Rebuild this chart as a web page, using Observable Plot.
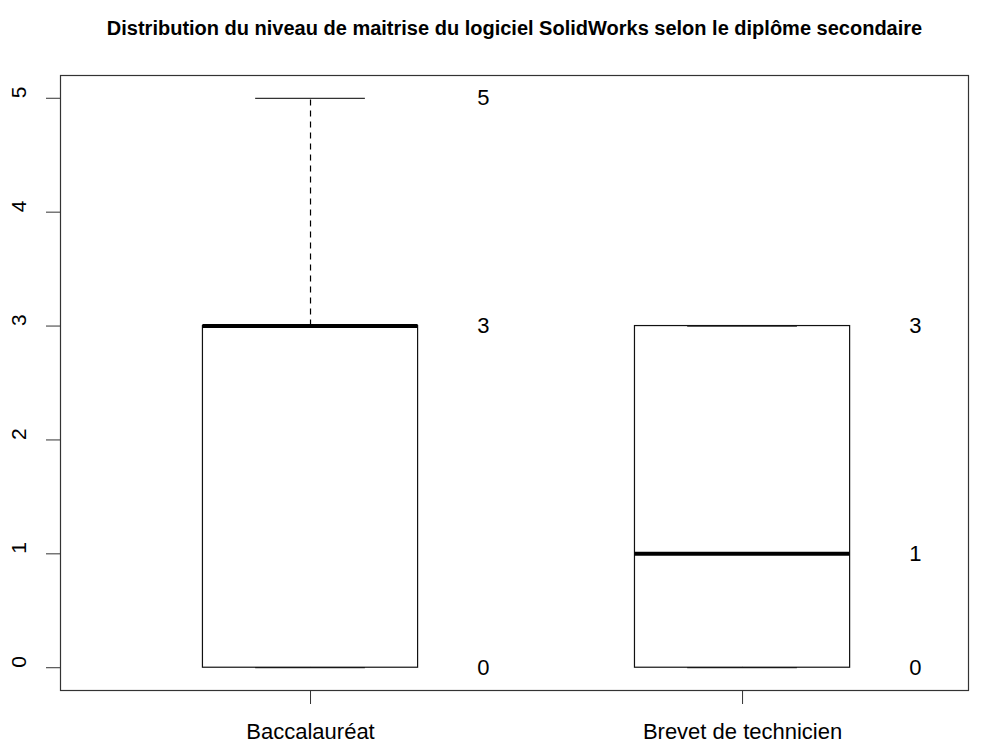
<!DOCTYPE html>
<html>
<head>
<meta charset="utf-8">
<script src="https://cdn.jsdelivr.net/npm/d3@7"></script>
<script src="https://cdn.jsdelivr.net/npm/@observablehq/plot@0.6"></script>
<style>
  html, body { margin: 0; padding: 0; background: #fff; }
  #chart svg { display: block; }
</style>
</head>
<body>
<div id="chart"></div>
<script>
const title = "Distribution du niveau de maitrise du logiciel SolidWorks selon le diplôme secondaire";
const categories = ["Baccalauréat", "Brevet de technicien"];
const positions = [1, 2];
const minimums = [0, 0];
const lowerQuartiles = [0, 0];
const medians = [3, 1];
const upperQuartiles = [3, 3];
const maximums = [5, 3];
const yTicks = [0, 1, 2, 3, 4, 5];

const stats = categories.map((c, i) => ({
  cat: c, x: positions[i], min: minimums[i], q1: lowerQuartiles[i],
  med: medians[i], q3: upperQuartiles[i], max: maximums[i]
}));
// labels next to each box: distinct values of the summary
const labels = stats.flatMap(s =>
  Array.from(new Set([s.max, s.q3, s.med, s.q1, s.min])).map(v => ({x: s.x, v}))
);

const halfBox = 0.249, halfCap = 0.127, labelOffset = 0.4;
const font = "'Liberation Sans', Arial, Helvetica, sans-serif";

const chart = Plot.plot({
  width: 984,
  height: 747,
  marginLeft: 60,
  marginRight: 16,
  marginTop: 75,
  marginBottom: 57,
  style: {fontFamily: font, background: "#fff", color: "#000", overflow: "visible"},
  x: {type: "linear", domain: [0.4213, 2.523]},
  y: {domain: [-0.2, 5.2]},
  marks: [
    Plot.frame({stroke: "#333", strokeWidth: 1.2}),
    // whiskers
    Plot.ruleX(stats, {x: "x", y1: "q3", y2: "max", stroke: "#000", strokeWidth: 1.2, strokeDasharray: "6,5"}),
    Plot.ruleX(stats, {x: "x", y1: "q1", y2: "min", stroke: "#000", strokeWidth: 1.2, strokeDasharray: "6,5"}),
    Plot.ruleY(stats, {y: "max", x1: d => d.x - halfCap, x2: d => d.x + halfCap, stroke: "#333", strokeWidth: 1.2}),
    Plot.ruleY(stats, {y: "min", x1: d => d.x - halfCap, x2: d => d.x + halfCap, stroke: "#333", strokeWidth: 1.2}),
    // boxes
    Plot.rect(stats, {x1: d => d.x - halfBox, x2: d => d.x + halfBox, y1: "q1", y2: "q3", fill: "none", stroke: "#111", strokeWidth: 1.2}),
    // medians
    Plot.ruleY(stats, {y: "med", x1: d => d.x - halfBox, x2: d => d.x + halfBox, stroke: "#000", strokeWidth: 4}),
    // value labels
    Plot.text(labels, {x: d => d.x + labelOffset, y: "v", text: d => String(d.v), fontSize: 22, fill: "#000"}),
    // y axis
    Plot.axisY({ticks: yTicks, tickSize: 14, tickFormat: () => "", label: null, stroke: "#333"}),
    Plot.text(yTicks, {y: d => d, text: d => String(d), frameAnchor: "left", dx: -41, rotate: -90, fontSize: 21, fill: "#000"}),
    // x axis
    Plot.axisX({ticks: positions, tickSize: 14, tickPadding: 19, tickFormat: d => categories[positions.indexOf(d)], fontSize: 22, label: null, stroke: "#333", fill: "#000"}),
    // title
    Plot.text([title], {frameAnchor: "top", dy: -54.5, fontSize: 20, fontWeight: "bold", fill: "#000"})
  ]
});
document.getElementById("chart").appendChild(chart);
</script>
</body>
</html>
